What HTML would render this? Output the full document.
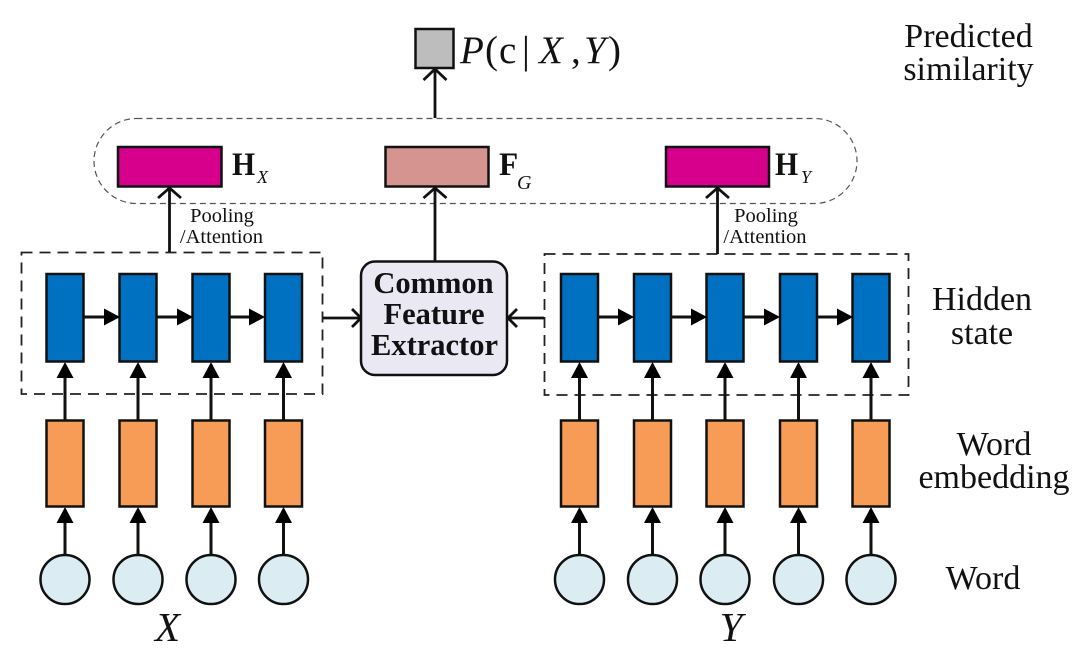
<!DOCTYPE html>
<html><head><meta charset="utf-8"><style>
html,body{margin:0;padding:0;background:#fff;width:1080px;height:653px;overflow:hidden}
svg{display:block}
text{font-family:"Liberation Serif",serif;fill:#111}
</style></head><body>
<svg width="1080" height="653" viewBox="0 0 1080 653" xmlns="http://www.w3.org/2000/svg">
<defs>
<g id="up"><path d="M0 0L-8.500 16H8.500Z" fill="#000"/></g>
<g id="right"><path d="M0 0L-16 -8.500V8.500Z" fill="#000"/></g>
<g id="col">
  <line x1="0" y1="556" x2="0" y2="520" stroke="#111" stroke-width="3"/>
  <use href="#up" y="507"/>
  <line x1="0" y1="421" x2="0" y2="375" stroke="#111" stroke-width="3"/>
  <use href="#up" y="362"/>
  <rect x="-18.500" y="274" width="37" height="87.500" fill="#0070c0" stroke="#111" stroke-width="2.500"/>
  <rect x="-18.500" y="420.500" width="37" height="86" fill="#f79c56" stroke="#111" stroke-width="2.500"/>
  <circle cx="0" cy="579.500" r="24.500" fill="#dbecf3" stroke="#111" stroke-width="2.500"/>
</g>
</defs>
<rect width="1080" height="653" fill="#fff"/>

<!-- pill -->
<rect x="94" y="118.500" width="763" height="85" rx="42.500" fill="none" stroke="#555" stroke-width="1.200" stroke-dasharray="6 4"/>

<!-- dashed boxes -->
<rect x="21.500" y="252.500" width="301" height="141.500" fill="none" stroke="#222" stroke-width="1.800" stroke-dasharray="11 7"/>
<rect x="544.500" y="254" width="364" height="141" fill="none" stroke="#222" stroke-width="1.800" stroke-dasharray="11 7"/>

<!-- columns -->
<use href="#col" x="65"/><use href="#col" x="138"/><use href="#col" x="211"/><use href="#col" x="283.500"/>
<use href="#col" x="579.500"/><use href="#col" x="652.500"/><use href="#col" x="725"/><use href="#col" x="798.500"/><use href="#col" x="871"/>

<!-- horizontal arrows -->
<g stroke="#111" stroke-width="3">
<line x1="84" y1="317" x2="105" y2="317"/><line x1="157" y1="317" x2="178" y2="317"/><line x1="230" y1="317" x2="251" y2="317"/>
<line x1="598" y1="317" x2="619" y2="317"/><line x1="671" y1="317" x2="692" y2="317"/><line x1="744" y1="317" x2="765" y2="317"/><line x1="817" y1="317" x2="838" y2="317"/>
</g>
<use href="#right" x="120" y="317"/><use href="#right" x="193" y="317"/><use href="#right" x="265" y="317"/>
<use href="#right" x="634" y="317"/><use href="#right" x="707" y="317"/><use href="#right" x="780" y="317"/><use href="#right" x="853" y="317"/>

<!-- connectors to extractor -->
<g fill="none" stroke="#111" stroke-width="2.800">
<path d="M323 318H361M352 309L361 318L352 327"/>
<path d="M544 318H508M517 309L508 318L517 327"/>
<path d="M169.500 252V188M158 198L169.500 188L181 198"/>
<path d="M717.500 254V188M706 198L717.500 188L729 198"/>
<path d="M435 261V188M423.500 198L435 188L446.500 198"/>
<path d="M435 118V69M423.500 80L435 69L446.500 80"/>
</g>

<!-- top boxes -->
<rect x="118" y="147" width="103.500" height="39.500" fill="#d6008c" stroke="#111" stroke-width="2.500"/>
<rect x="385.500" y="147" width="103" height="39.500" fill="#d69490" stroke="#111" stroke-width="2.500"/>
<rect x="666" y="147" width="103" height="39.500" fill="#d6008c" stroke="#111" stroke-width="2.500"/>
<rect x="415.500" y="29" width="38" height="39" fill="#bdbdbd" stroke="#111" stroke-width="2.500"/>

<!-- extractor -->
<rect x="361" y="261.500" width="146" height="113.500" rx="14" fill="#eae8f2" stroke="#111" stroke-width="2.500"/>
<g font-weight="bold" font-size="30.500" text-anchor="middle">
<text x="433.500" y="293">Common</text>
<text x="434" y="324">Feature</text>
<text x="434.500" y="355">Extractor</text>
</g>

<!-- labels -->
<text x="460" y="63" font-size="39" font-style="italic">P</text>
<text x="485" y="63" font-size="39">(</text>
<text x="499" y="63" font-size="39">c</text>
<text x="522" y="63" font-size="39">|</text>
<text x="539" y="63" font-size="39" font-style="italic">X</text>
<text x="571" y="63" font-size="39">,</text>
<text x="584" y="63" font-size="39" font-style="italic">Y</text>
<text x="608" y="63" font-size="39">)</text>

<text transform="translate(232,175) scale(.9,1)" font-size="33" font-weight="bold">H</text>
<text x="257" y="183" font-size="18" font-style="italic">X</text>
<text transform="translate(499,175) scale(.95,1)" font-size="33" font-weight="bold">F</text>
<text x="517" y="189" font-size="20" font-style="italic">G</text>
<text transform="translate(775,175) scale(.9,1)" font-size="33" font-weight="bold">H</text>
<text x="801" y="183" font-size="18" font-style="italic">Y</text>

<g font-size="20.500" text-anchor="middle">
<text x="222" y="222">Pooling</text>
<text x="221.500" y="243">/Attention</text>
<text x="766" y="222">Pooling</text>
<text x="765" y="243">/Attention</text>
</g>

<g font-size="34" text-anchor="middle">
<text x="968.500" y="47">Predicted</text>
<text x="968.500" y="80">similarity</text>
<text x="982" y="310">Hidden</text>
<text x="982" y="344">state</text>
<text x="994" y="455">Word</text>
<text x="994" y="488">embedding</text>
<text x="983" y="589">Word</text>
</g>

<text x="167.500" y="641" font-size="41" font-style="italic" text-anchor="middle">X</text>
<text x="731" y="641" font-size="41" font-style="italic" text-anchor="middle">Y</text>
</svg>
</body></html>
